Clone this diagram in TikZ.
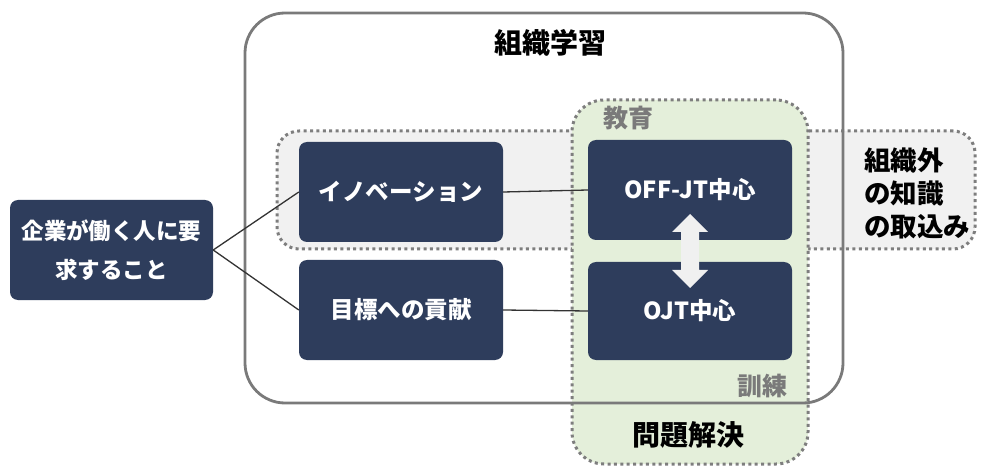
\documentclass[tikz,border=0pt]{standalone}
\usepackage{fontspec}
\setmainfont{Noto Sans CJK JP}
\usetikzlibrary{positioning}
\definecolor{navy}{HTML}{2E3D5C}
\definecolor{greenfill}{HTML}{E4EFDA}
\definecolor{grayfill}{HTML}{F1F1F1}
\definecolor{framegray}{HTML}{7A7A7A}
\definecolor{dotgray}{HTML}{7E7E7E}
\tikzset{
  darkbox/.style={draw=none, fill=navy, rounded corners=8pt, text=white,
    font=\bfseries\fontsize{23.5}{29}\selectfont, minimum width=204pt, minimum height=100pt,
    inner sep=0pt, align=center},
  dotregion/.style={draw=dotgray, line width=3pt, dash pattern=on 3pt off 3.4pt},
  conn/.style={draw=black!80, line width=1.3pt},
  label/.style={inner sep=0pt, font=\bfseries\fontsize{28}{34}\selectfont},
  graylabel/.style={inner sep=0pt, text=black!52, font=\bfseries\fontsize{25}{30}\selectfont}
}
\begin{document}
\begin{tikzpicture}[x=1pt,y=-1pt]
\useasboundingbox (0,0) rectangle (983,473);
\fill[white] (0,0) rectangle (983,473);
% gray dotted region
\node[dotregion, fill=grayfill, rounded corners=22pt, minimum width=698pt, minimum height=118pt] (outside) at (626,190) {};
% green region
\node[dotregion, fill=greenfill, rounded corners=32pt, minimum width=236pt, minimum height=364pt] (green) at (690,282) {};
% big frame
\node[draw=framegray, line width=2.8pt, rounded corners=40pt, minimum width=598pt, minimum height=390pt] (frame) at (544,208) {};
% labels
\node[label] (title) at (550,43) {組織学習};
\node[graylabel] (kyoiku) at (628,118) {教育};
\node[graylabel] (kunren) at (762,386) {訓練};
\node[label] (mondai) at (688,435) {問題解決};
\node[label, align=left, font=\bfseries\fontsize{26.5}{33}\selectfont, anchor=west] (soshikigai) at (864,193) {組織外\\の知識\\の取込み};
% dark boxes
\node[darkbox, font=\bfseries\fontsize{22.5}{39}\selectfont, minimum width=203pt, minimum height=100pt] (kigyo) at (111.5,250) {企業が働く人に要\\求すること};
\node[darkbox] (inno) at (401,192) {イノベーション};
\node[darkbox] (mokuhyo) at (401,310) {目標への貢献};
\node[darkbox] (offjt) at (690,190) {OFF-JT中心};
\node[darkbox, minimum height=98pt] (ojt) at (690,311) {OJT中心};
% connectors
\draw[conn] (kigyo.east) -- (inno.west);
\draw[conn] (kigyo.east) -- (mokuhyo.west);
\draw[conn] (inno.east) -- (offjt.west);
\draw[conn] (mokuhyo.east) -- (ojt.west);
% double arrow
\coordinate (atop) at (690,214);
\coordinate (abot) at (690,288);
\fill[gray!12] (atop) -- (708,232) -- (699,232) -- (699,270) -- (708,270) -- (abot) -- (672,270) -- (681,270) -- (681,232) -- (672,232) -- cycle;
\end{tikzpicture}
\end{document}
